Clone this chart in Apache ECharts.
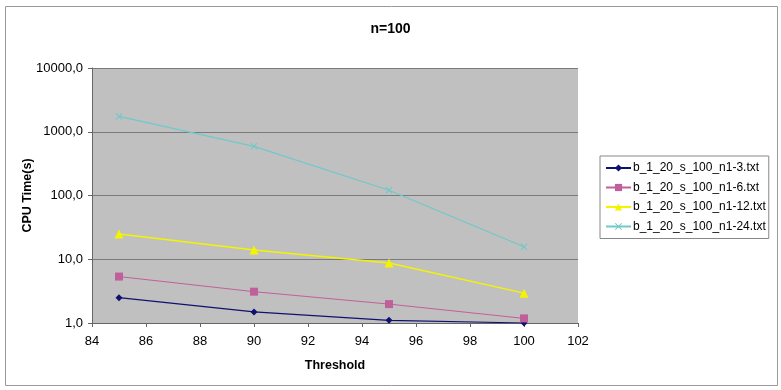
<!DOCTYPE html>
<html><head><meta charset="utf-8">
<script src="https://cdn.jsdelivr.net/npm/echarts@6/dist/echarts.min.js"></script>
<style>html,body{margin:0;padding:0;background:#fff}#c{width:781px;height:390px}</style>
</head><body><div id="c"></div>
<script>
var thresholds = [85, 90, 95, 100];
var seriesNames = ['b_1_20_s_100_n1-3.txt','b_1_20_s_100_n1-6.txt','b_1_20_s_100_n1-12.txt','b_1_20_s_100_n1-24.txt'];
var n1_3  = [2.5, 1.49, 1.1, 1.0];
var n1_6  = [5.35, 3.1, 1.98, 1.18];
var n1_12 = [24.8, 14.0, 8.7, 2.94];
var n1_24 = [1738, 590, 121, 15.7];
var title = 'n=100';
var xName = 'Threshold';
var yName = 'CPU Time(s)';

var colors = ['#101070', '#C0609A', '#F4F400', '#70C8C8'];
var symbols = ['diamond', 'rect', 'triangle', 'path://M0,1L1,0L5,4L9,0L10,1L6,5L10,9L9,10L5,6L1,10L0,9L4,5Z'];
var sizes = [7, 8, 9, 7];
var widths = [1.2, 1, 1.5, 1.2];
var allData = [n1_3, n1_6, n1_12, n1_24];

var series = allData.map(function(vals, i){
  return {
    name: seriesNames[i], type: 'line',
    data: thresholds.map(function(t, j){ return [t, vals[j]]; }),
    symbol: symbols[i], symbolSize: sizes[i], showSymbol: true,
    lineStyle: {color: colors[i], width: widths[i]},
    itemStyle: {color: colors[i]},
    animation: false
  };
});

var chart = echarts.init(document.getElementById('c'));
chart.setOption({
  animation: false,
  title: {text: title, left: 'center', top: 17, textStyle: {fontFamily: 'Liberation Sans, Arial', fontSize: 14, fontWeight: 'bold', color: '#000'}},
  graphic: [{type: 'rect', shape: {x: 5.5, y: 6.5, width: 772, height: 379}, style: {fill: 'none', stroke: '#999', lineWidth: 1}, z: -1}],
  grid: {left: 92, top: 68, width: 486, height: 255, backgroundColor: '#C0C0C0', show: true, borderWidth: 0},
  legend: {
    orient: 'vertical', left: 600, top: 156,
    borderColor: '#888', borderWidth: 1, padding: [6, 3, 6, 5], itemGap: 7.5,
    itemWidth: 25, itemHeight: 9,
    textStyle: {fontFamily: 'Liberation Sans, Arial', fontSize: 12, color: '#000', padding: [0,0,0,-3]},
    data: seriesNames
  },
  xAxis: {
    type: 'value', min: 84, max: 102, interval: 2,
    name: xName, nameLocation: 'middle', nameGap: 36, nameMoveOverlap: false,
    nameTextStyle: {fontFamily: 'Liberation Sans, Arial', fontSize: 12.5, fontWeight: 'bold', color: '#000'},
    axisLine: {show: true, lineStyle: {color: '#666'}},
    axisTick: {show: true, inside: false, length: 4, lineStyle: {color: '#666'}},
    axisLabel: {fontFamily: 'Liberation Sans, Arial', fontSize: 13, color: '#000', margin: 12},
    splitLine: {show: false}
  },
  yAxis: {
    type: 'log', logBase: 10, min: 1, max: 10000,
    name: yName, nameLocation: 'middle', nameGap: 58, nameRotate: 90, nameMoveOverlap: false,
    nameTextStyle: {fontFamily: 'Liberation Sans, Arial', fontSize: 12.5, fontWeight: 'bold', color: '#000'},
    axisLine: {show: true, lineStyle: {color: '#666'}},
    axisTick: {show: true, length: 4, lineStyle: {color: '#666'}},
    axisLabel: {fontFamily: 'Liberation Sans, Arial', fontSize: 13, color: '#000', margin: 9,
      formatter: function(v){ return Math.round(v) + ',0'; }},
    splitLine: {show: true, lineStyle: {color: '#7a7a7a', width: 1}},
    minorTick: {show: false}
  },
  series: series
});
</script></body></html>
